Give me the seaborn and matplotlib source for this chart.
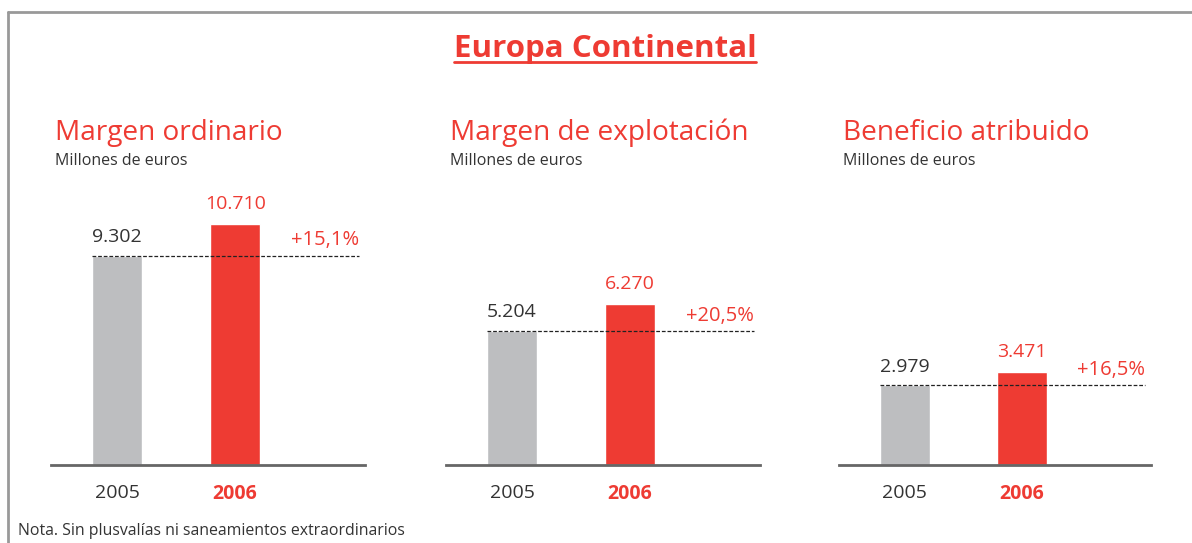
import seaborn as sns
import matplotlib.pyplot as plt
from matplotlib.lines import Line2D

# data
years = ["2005", "2006"]
titles = ["Margen ordinario", "Margen de explotación", "Beneficio atribuido"]
vals_2005 = [9302, 5204, 2979]
vals_2006 = [10710, 6270, 3471]
labels_2005 = ["9.302", "5.204", "2.979"]
labels_2006 = ["10.710", "6.270", "3.471"]
growth = ["+15,1%", "+20,5%", "+16,5%"]

red = "#EE3B33"
grey = "#BDBEC0"
dark = "#333333"

sns.set_style("white")
plt.rcParams["font.family"] = ["Open Sans", "DejaVu Sans"]

fig = plt.figure(figsize=(11.92, 5.43), dpi=100)
W, H = 1192, 543

# panel left edges / widths in pixels, and y-max per panel
lefts = [51, 446, 839]
widths = [314, 314, 312]
ymaxs = [11780, 10300, 9900]
bottom = 465
top = 200

for i in range(3):
    ax = fig.add_axes([lefts[i] / W, 1 - bottom / H, widths[i] / W, (bottom - top) / H])
    sns.barplot(x=years, y=[vals_2005[i], vals_2006[i]], hue=years,
                palette=[grey, red], width=0.424, legend=False, ax=ax,
                saturation=1)
    ax.set_xlim(-0.56, 2.10)
    ax.set_ylim(0, ymaxs[i])
    for s in ["top", "left", "right"]:
        ax.spines[s].set_visible(False)
    ax.spines["bottom"].set_color("#666666")
    ax.spines["bottom"].set_linewidth(2)
    ax.spines["bottom"].set_zorder(5)
    ax.set_yticks([])
    ax.set_ylabel("")
    ax.tick_params(axis="x", length=0, pad=14, labelsize=14)
    tl = ax.get_xticklabels()
    tl[0].set_color(dark)
    tl[1].set_color(red)
    tl[1].set_fontweight("bold")
    # dashed reference line at 2005 level
    ax.plot([-0.212, 2.05], [vals_2005[i], vals_2005[i]], ls=(0, (3, 1.5)),
            color="#222222", lw=0.9, zorder=4)
    ax.annotate(labels_2005[i], (0, vals_2005[i]), xytext=(0, 7),
                textcoords="offset points", ha="center", va="bottom",
                fontsize=14, color=dark)
    ax.annotate(labels_2006[i], (1, vals_2006[i]), xytext=(0, 8),
                textcoords="offset points", ha="center", va="bottom",
                fontsize=14, color=red)
    ax.annotate(growth[i], (2.05, vals_2005[i]), xytext=(0, 4),
                textcoords="offset points", ha="right", va="bottom",
                fontsize=14.5, color=red)
    fig.text((lefts[i] + 4) / W, 1 - 140 / H, titles[i], fontsize=20.2,
             color=red, va="baseline")
    fig.text((lefts[i] + 4) / W, 1 - 165 / H, "Millones de euros", fontsize=11.5,
             color=dark, va="baseline")

# main title with underline
t = fig.text(0.5075, 1 - 57 / H, "Europa Continental", fontsize=22.5, fontweight="bold",
             color=red, ha="center", va="baseline")
fig.canvas.draw()
bb = t.get_window_extent().transformed(fig.transFigure.inverted())
fig.add_artist(Line2D([bb.x0, bb.x1], [1 - 62 / H, 1 - 62 / H], color=red, lw=2,
                      transform=fig.transFigure))

fig.text(18 / W, 1 - 535 / H, "Nota. Sin plusvalías ni saneamientos extraordinarios",
         fontsize=11.4, color=dark, va="baseline")

# frame
fig.add_artist(Line2D([8 / W, 1], [1 - 12 / H, 1 - 12 / H], color="#999999", lw=2,
                      transform=fig.transFigure))
fig.add_artist(Line2D([8 / W, 8 / W], [0, 1 - 12 / H], color="#999999", lw=2,
                      transform=fig.transFigure))

fig.savefig("out.png", dpi=100)
